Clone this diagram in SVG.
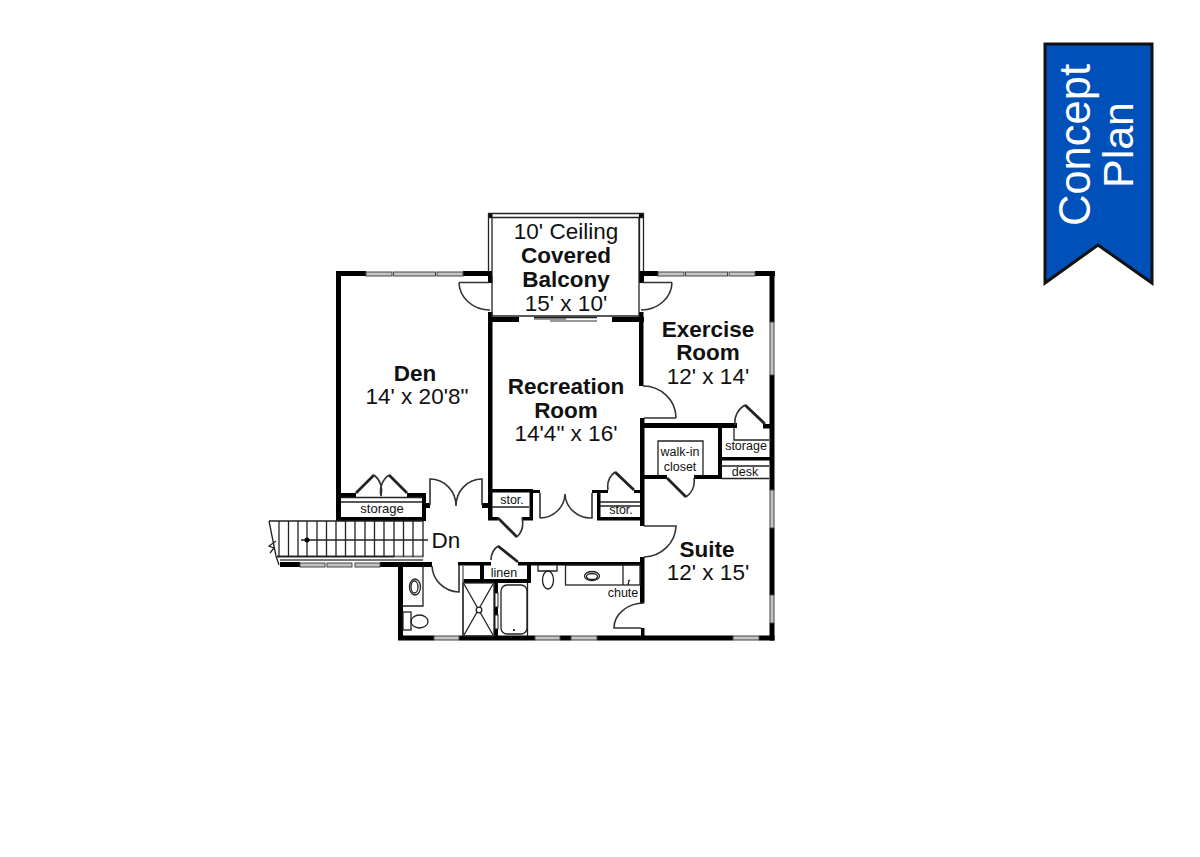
<svg xmlns="http://www.w3.org/2000/svg" width="1200" height="857" viewBox="0 0 1200 857">
<style>
text{font-family:"Liberation Sans",Arial,sans-serif;fill:#111;text-anchor:middle}
.r{font-size:22.500px}.b{font-size:22.500px;font-weight:bold}.s{font-size:12.500px}.m{font-size:13px}
.w{fill:#000}
.win{fill:#c4c4c4;stroke:#444;stroke-width:1}
.t{fill:none;stroke:#222;stroke-width:1.300}
.t2{fill:none;stroke:#333;stroke-width:1.600}
.g{fill:none;stroke:#777;stroke-width:1.600}
</style>
<rect width="1200" height="857" fill="#fff"/>
<g id="banner">
<polygon points="1045,44 1152,44 1152,283 1098,245 1045,283" fill="#0050b9" stroke="#111" stroke-width="3"/>
<text transform="translate(1090,145) rotate(-90)" font-size="43.500" style="fill:#fff">Concept</text>
<text transform="translate(1133,145) rotate(-90)" font-size="43" style="fill:#fff">Plan</text>
</g>
<g id="walls" class="w">
<path d="M336 271H366V276H341V521H336Z"/>
<rect x="463" y="271" width="29" height="5"/>
<rect x="488" y="276" width="4.500" height="7"/>
<rect x="488" y="213" width="4.500" height="5"/>
<rect x="639" y="213" width="5" height="5"/>
<rect x="488" y="312" width="4.500" height="208"/>
<rect x="488" y="317" width="31" height="5"/>
<rect x="612" y="317" width="32" height="5"/>
<rect x="639" y="312" width="4.500" height="74"/>
<rect x="639" y="271" width="19" height="5"/>
<rect x="639" y="276" width="5" height="7"/>
<rect x="755" y="271" width="20" height="5"/>
<rect x="769.500" y="271" width="5" height="51"/>
<rect x="769.500" y="375" width="5" height="115"/>
<rect x="769.500" y="528" width="5" height="67"/>
<rect x="769.500" y="623" width="5" height="17.500"/>
<rect x="640" y="418" width="4.500" height="108"/>
<rect x="640" y="423" width="97" height="5"/>
<rect x="763" y="424" width="7" height="4.500"/>
<rect x="718" y="428" width="4" height="51"/>
<rect x="721" y="457" width="49" height="3.500"/>
<rect x="644" y="475" width="23" height="4"/>
<rect x="694" y="475" width="27" height="4"/>
<rect x="640" y="557" width="4.500" height="46"/>
<rect x="641" y="628" width="3.500" height="8"/>
<rect x="398" y="635.500" width="36" height="5"/>
<rect x="459" y="635.500" width="76" height="5"/>
<rect x="560" y="635.500" width="11" height="5"/>
<rect x="597" y="635.500" width="136" height="5"/>
<rect x="759" y="635.500" width="15.500" height="5"/>
<rect x="398" y="562" width="5" height="78"/>
<rect x="280" y="562" width="20" height="5"/>
<rect x="380" y="562" width="52" height="5"/>
<rect x="458" y="562" width="33" height="3.500"/>
<rect x="518" y="562" width="126" height="3.500"/>
<rect x="480" y="565" width="4" height="15"/>
<rect x="463" y="579" width="68" height="4"/>
<rect x="527" y="562" width="4" height="21"/>
<rect x="494" y="583" width="4" height="53"/>
<rect x="341" y="493" width="15" height="4"/>
<rect x="407" y="493" width="18" height="4"/>
<rect x="422" y="493" width="4" height="28"/>
<rect x="336" y="517" width="90" height="4"/>
<rect x="425" y="503" width="5" height="5"/>
<rect x="482" y="503" width="6" height="5"/>
<rect x="488" y="489" width="44" height="3.500"/>
<rect x="488" y="517" width="10" height="3.500"/>
<rect x="522" y="517" width="11" height="3.500"/>
<rect x="529.500" y="489" width="3.500" height="31"/>
<rect x="532" y="490" width="8" height="3"/>
<rect x="592" y="490" width="16" height="3"/>
<rect x="597" y="490" width="3.500" height="30"/>
<rect x="597" y="517" width="47" height="3.500"/>
<rect x="634" y="490" width="8" height="3"/>
</g>
<g id="windows">
<rect class="win" x="366" y="272" width="26" height="4"/><rect class="win" x="393.500" y="272" width="42" height="4"/><rect class="win" x="437" y="272" width="26" height="4"/>
<rect class="win" x="658" y="272" width="26" height="4"/><rect class="win" x="685.500" y="272" width="42" height="4"/><rect class="win" x="729" y="272" width="26" height="4"/>
<rect class="win" x="770" y="322" width="4" height="53"/><rect class="win" x="770" y="490" width="4" height="38"/><rect class="win" x="770" y="595" width="4" height="28"/>
<rect class="win" x="300" y="563" width="25" height="4"/><rect class="win" x="327" y="563" width="25" height="4"/><rect class="win" x="355" y="563" width="25" height="4"/>
<rect class="win" x="434" y="636" width="25" height="4"/><rect class="win" x="535" y="636" width="25" height="4"/><rect class="win" x="571" y="636" width="26" height="4"/><rect class="win" x="733" y="636" width="26" height="4"/>
</g>
<g id="balcony">
<path class="t" d="M488 213.500H644M488 217.500H644M488.500 213V272M492 218V316H639V218M639.500 218V272M643.500 213V272"/>
<path class="g" d="M534 319H566M550 321H597"/>
<path class="t" d="M534 317.500H597"/>
</g>
<g id="doors">
<path class="t2" d="M459 282.500H489M459 282.500A31 28 0 0 0 490 310"/>
<path class="t2" d="M672 282.500H642M672 282.500A31 28 0 0 1 641 310"/>
<path class="t2" d="M644 418H676M676 418A33 32 0 0 0 643 386"/>
<path class="t2" d="M430 505V479A26 27 0 0 1 456 506A26 27 0 0 1 482 479V505"/>
<path class="t2" d="M540 518V493M540 518A25 25 0 0 0 565 494A26 25 0 0 0 592 518V493"/>
<path class="t2" d="M644 526H676A33 32 0 0 1 644 557"/>
<path class="t2" d="M641 628H614A30 25 0 0 1 644 603"/>
<path class="t2" d="M432 566A28 27 0 0 0 459 592V565"/>
<path class="t" d="M356 493L374 475M407 493L389 475M498 518L517 537M615 472L634 490M667 478L686 497M745 405L765 424M498 546L518 562" style="stroke-width:2.800"/>
<path class="t2" d="M374 475A20 20 0 0 1 381 496A20 20 0 0 1 389 475"/>
<path class="t2" d="M517 537A20 20 0 0 0 522 518M608 490A19 19 0 0 1 615 472M686 497A20 20 0 0 0 694 478M735 425A20 20 0 0 1 745 405M491 560A17 17 0 0 1 498 546"/>
</g>
<g id="stairs">
<path class="t" d="M269 521H423M269 521L276 556L279 565M276 541L269 546L274 548L270 553"/>
<path class="g" d="M277 556.500H423M280 560H423" style="stroke-width:2"/>
<path class="t" d="M277 556.500H394" style="stroke-width:1.500"/>
<path class="t" d="M279 521V557M288.500 521V557M298 521V557M307 521V557M317 521V557M326.500 521V557M336 521V557M345.500 521V557M355 521V557M365 521V557M374.500 521V557M384 521V557M394 521V557M403.500 521V557M413 521V557M423 521V557"/>
<path class="t" d="M301 540H428" style="stroke-width:1.500"/>
<circle cx="307" cy="540" r="2.500" fill="#000"/>
</g>
<g id="fixtures">
<path class="t" d="M341 497.500H422M341 502H422M492 507H529M600 502H640M600 506H640"/>
<path class="t" d="M734 428V440H769M658 476V441H703V476M721 466H769M721 478.500H769"/>
<path class="g" d="M463 565V636"/>
<path class="t" d="M423 566V606H403"/>
<ellipse class="t" cx="415" cy="587" rx="5.500" ry="8"/><ellipse class="t" cx="414.500" cy="587" rx="3.500" ry="6"/>
<rect class="t" x="403" y="612" width="8" height="18"/>
<ellipse class="t" cx="419.500" cy="621.500" rx="8.500" ry="6.500"/>
<rect class="t" x="463" y="583" width="31" height="53"/>
<path class="t" d="M464 584L493 635M493 584L464 635"/>
<circle class="t" cx="479" cy="610" r="2.800" style="fill:#fff"/>
<rect fill="#fff" stroke="#222" x="495" y="593" width="3" height="14"/><rect fill="#fff" stroke="#222" x="495" y="615" width="3" height="14"/>
<rect class="t" x="501" y="585" width="26" height="49" rx="6"/>
<circle cx="514" cy="630" r="1" fill="#000"/>
<path class="t" d="M527.500 583V636"/>
<path class="t" d="M538 565V571H557V565"/>
<ellipse class="t" cx="548" cy="580" rx="5.500" ry="9"/>
<rect class="t" x="565.500" y="565" width="74.500" height="20"/>
<path class="t" d="M623 565V585"/>
<ellipse class="t" cx="592" cy="576" rx="7.500" ry="4.500"/><ellipse class="t" cx="592" cy="576.500" rx="5.500" ry="3"/>
<path class="t" d="M628 581L630 580M629 581L628 585"/>
</g>
<g id="labels">
<text class="r" x="566" y="239">10' Ceiling</text>
<text class="b" x="566" y="263">Covered</text>
<text class="b" x="566" y="287">Balcony</text>
<text class="r" x="566" y="311">15' x 10'</text>
<text class="b" x="415" y="381">Den</text>
<text class="r" x="417" y="404">14' x 20'8"</text>
<text class="b" x="566" y="394">Recreation</text>
<text class="b" x="566" y="418">Room</text>
<text class="r" x="566" y="441">14'4" x 16'</text>
<text class="b" x="708" y="337">Exercise</text>
<text class="b" x="708" y="360">Room</text>
<text class="r" x="708" y="384">12' x 14'</text>
<text class="b" x="707" y="557">Suite</text>
<text class="r" x="708" y="580">12' x 15'</text>
<text class="r" x="446" y="548">Dn</text>
<text class="m" x="382" y="513">storage</text>
<text class="s" x="512" y="504">stor.</text>
<text class="s" x="621" y="514">stor.</text>
<text class="s" x="746" y="450">storage</text>
<text class="s" x="745" y="476">desk</text>
<text class="s" x="680" y="456">walk-in</text>
<text class="s" x="680" y="471">closet</text>
<text class="s" x="504" y="577">linen</text>
<text class="s" x="623" y="597">chute</text>
</g>
</svg>
